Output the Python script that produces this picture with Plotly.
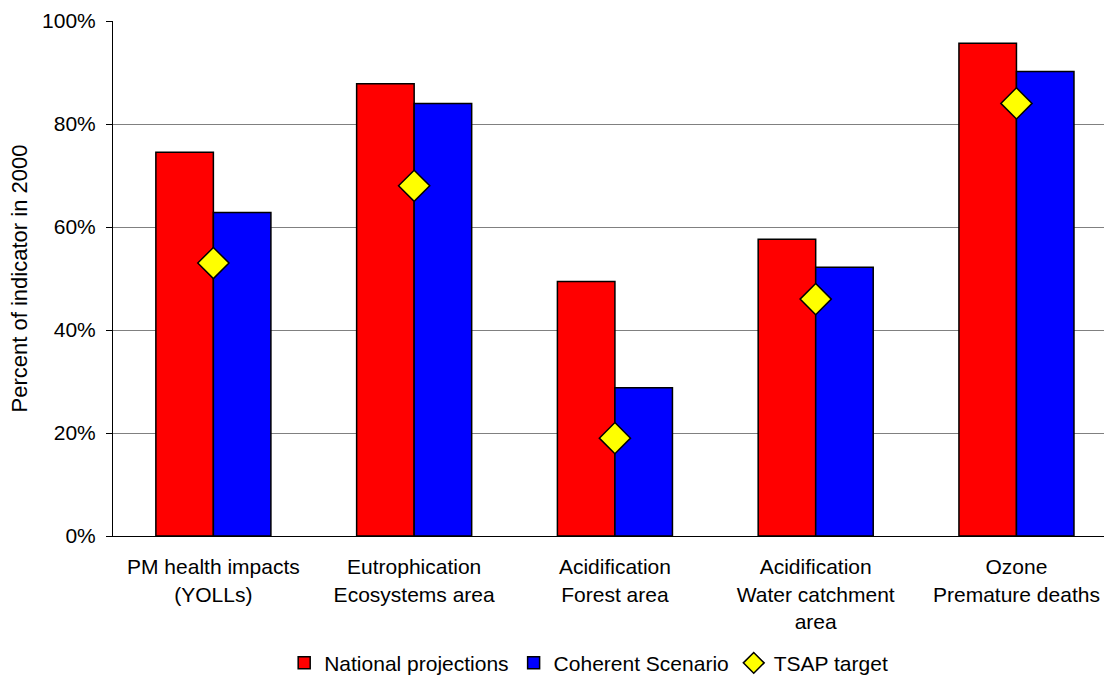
import plotly.graph_objects as go

# Indicator categories (multi-line labels)
categories = [
    "PM health impacts<br>(YOLLs)",
    "Eutrophication<br>Ecosystems area",
    "Acidification<br>Forest area",
    "Acidification<br>Water catchment<br>area",
    "Ozone<br>Premature deaths",
]

# Percent of indicator in 2000
national_projections = [74.5, 87.8, 49.4, 57.6, 95.7]
coherent_scenario = [62.8, 84.0, 28.8, 52.2, 90.2]
tsap_target = [53.0, 68.0, 19.0, 46.0, 84.0]

y_ticks = [0, 20, 40, 60, 80, 100]
y_tick_labels = [f"{v}%" for v in y_ticks]

FONT = "Liberation Sans, Arial, sans-serif"

fig = go.Figure()

fig.add_trace(go.Bar(
    x=categories, y=national_projections, name="National projections",
    marker=dict(color="#FF0000", line=dict(color="#000000", width=1.5)),
))
fig.add_trace(go.Bar(
    x=categories, y=coherent_scenario, name="Coherent Scenario",
    marker=dict(color="#0000FF", line=dict(color="#000000", width=1.5)),
))
fig.add_trace(go.Scatter(
    x=categories, y=tsap_target, name="TSAP target", mode="markers",
    marker=dict(symbol="diamond", size=24, color="#FFFF00",
                line=dict(color="#000000", width=1.5)),
))

fig.update_layout(
    width=1104, height=678,
    margin=dict(l=113, r=0, t=21, b=142, autoexpand=False),
    paper_bgcolor="white", plot_bgcolor="white",
    font=dict(family=FONT, size=21, color="#000000"),
    barmode="group", bargap=0.427, bargroupgap=0,
    showlegend=True,
    legend=dict(
        orientation="h", x=0.48, xanchor="center", y=-0.247, yanchor="middle",
        xref="paper", yref="paper",
        font=dict(family=FONT, size=21, color="#000000"),
        itemwidth=30, tracegroupgap=0, traceorder="normal",
    ),
    xaxis=dict(
        range=[-0.5, 4.436], showline=True, linecolor="#000000", linewidth=1,
        showgrid=False, ticks="", tickfont=dict(size=21),
        ticklabelstandoff=12,
    ),
    yaxis=dict(
        range=[0, 100], tickmode="array", tickvals=y_ticks, ticktext=y_tick_labels,
        showline=True, linecolor="#000000", linewidth=1,
        showgrid=True, gridcolor="#808080", gridwidth=1,
        ticks="outside", ticklen=6, tickcolor="#000000",
        tickfont=dict(size=21), ticklabelstandoff=6,
        zeroline=False,
        title=dict(text="Percent of indicator in 2000", font=dict(size=22), standoff=8),
    ),
)

fig.write_html("out.html")
